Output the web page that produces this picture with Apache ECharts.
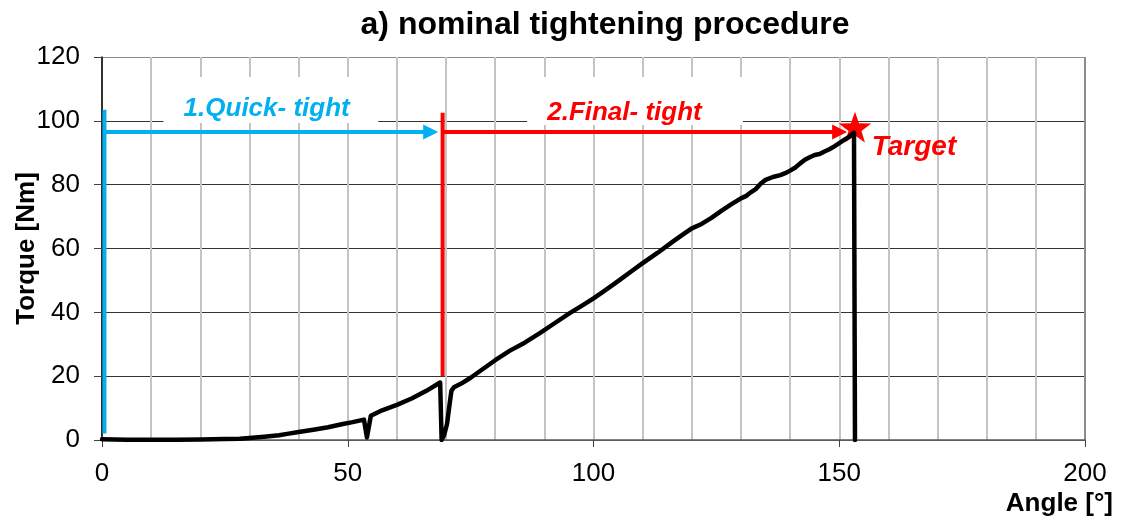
<!DOCTYPE html>
<html>
<head>
<meta charset="utf-8">
<script src="https://cdn.jsdelivr.net/npm/echarts@6/dist/echarts.min.js"></script>
<style>
  html, body { margin: 0; padding: 0; background: #fff; }
  #chart { width: 1121px; height: 521px; }
</style>
</head>
<body>
<div id="chart"></div>
<script>
// Torque vs. rotation angle of one nominal tightening run
const angle = [0, 5, 10, 15, 20, 25, 28, 30, 33, 36, 38, 40, 43, 46, 49, 51, 53.3, 53.9, 54.7, 57, 60, 63, 66, 68.8,
  69.1, 69.6, 70.2, 70.7, 71.1, 71.6, 73, 75, 78, 80, 83, 86, 89, 92, 95, 98, 100, 102, 105, 108, 110, 113, 116, 118,
  120, 122, 124, 126, 128, 130, 131, 132, 133, 134, 135, 136.5, 138, 139, 140, 141, 142, 143, 144, 145, 146, 147, 148,
  149, 150, 151, 152, 153, 153.2];
const torque = [0.2, 0.1, 0.1, 0.1, 0.15, 0.3, 0.4, 0.6, 1.0, 1.5, 2.0, 2.5, 3.2, 4.0, 5.0, 5.6, 6.4, 0.8, 7.6, 9.3, 11.0, 13.0, 15.4, 18.0,
  0.0, 1.5, 5.0, 11.0, 15.5, 16.5, 17.6, 19.5, 22.8, 25.0, 28.0, 30.5, 33.4, 36.5, 39.6, 42.4, 44.4, 46.5, 49.8, 53.2, 55.4, 58.6, 62.0, 64.2,
  66.3, 67.7, 69.6, 71.8, 73.8, 75.7, 76.4, 77.6, 78.6, 80.3, 81.5, 82.4, 83.0, 83.6, 84.4, 85.3, 86.6, 87.8, 88.6, 89.3, 89.6, 90.4, 91.1,
  92.0, 93.0, 94.0, 95.0, 96.3, 0];

// Phase markers, in [angle °, torque Nm]
const quickBar = [[0.5, 2], [0.5, 103.5]];
const quickArrow = [[0.5, 96.5], [68.4, 96.5]];
const finalBar = [[69.3, 20], [69.3, 102.5]];
const finalArrow = [[69.3, 96.5], [151.6, 96.5]];
const targetPoint = [153.2, 97.5];

// Phase captions: text, anchor point, white backing box corners
const captionText = ['1.Quick- tight', '2.Final- tight', 'Target'];
const captionAnchor = [[33.5, 103.8], [106.3, 102.4], [156.6, 91.8]];
const captionBox = [[[12.5, 113.7], [56.2, 99.3]], [[86.5, 113.7], [130.4, 98.7]], null];

const BLUE = '#00B0F0';
const RED = '#FF0000';
const FONT = '"Liberation Sans", Arial, Helvetica, sans-serif';

const curve = angle.map((a, i) => [a, torque[i]]);

function renderMarkers(params, api) {
  const P = p => api.coord(p);
  const kids = [];

  captionBox.forEach(b => {
    if (!b) return;
    const a = P(b[0]), c = P(b[1]);
    kids.push({ type: 'rect', shape: { x: a[0], y: a[1], width: c[0] - a[0], height: c[1] - a[1] },
      style: { fill: '#fff' } });
  });

  function seg(pts, color) {
    const a = P(pts[0]), b = P(pts[1]);
    kids.push({ type: 'line', shape: { x1: a[0], y1: a[1], x2: b[0], y2: b[1] },
      style: { stroke: color, lineWidth: 4 } });
  }
  function arrow(pts, color) {
    const a = P(pts[0]), b = P(pts[1]);
    const len = 15, half = 7.5;
    kids.push({ type: 'line', shape: { x1: a[0], y1: a[1], x2: b[0] - len + 1, y2: b[1] },
      style: { stroke: color, lineWidth: 4 } });
    kids.push({ type: 'polygon', shape: { points: [[b[0], b[1]], [b[0] - len, b[1] - half], [b[0] - len, b[1] + half]] },
      style: { fill: color } });
  }
  seg(quickBar, BLUE);
  arrow(quickArrow, BLUE);
  seg(finalBar, RED);
  arrow(finalArrow, RED);

  // target star
  const c = P(targetPoint);
  const R = 17, r = 6.8, pts = [];
  for (let k = 0; k < 10; k++) {
    const rad = k % 2 === 0 ? R : r;
    const ang = -Math.PI / 2 + k * Math.PI / 5;
    pts.push([c[0] + rad * Math.cos(ang), c[1] + rad * Math.sin(ang)]);
  }
  kids.push({ type: 'polygon', shape: { points: pts }, style: { fill: RED } });

  const colors = [BLUE, RED, RED];
  const sizes = [26, 26, 28];
  const aligns = ['center', 'center', 'left'];
  captionText.forEach((t, i) => {
    const p = P(captionAnchor[i]);
    kids.push({ type: 'text', style: {
      text: t, x: p[0], y: p[1], fill: colors[i],
      font: 'italic bold ' + sizes[i] + 'px ' + FONT,
      align: aligns[i], verticalAlign: 'middle',
      textAlign: aligns[i], textVerticalAlign: 'middle'
    } });
  });

  return { type: 'group', children: kids };
}

const chart = echarts.init(document.getElementById('chart'), null, { renderer: 'canvas' });
chart.setOption({
  backgroundColor: '#fff',
  animation: false,
  title: {
    text: 'a) nominal tightening procedure',
    left: 600, top: 4, textAlign: 'center',
    textStyle: { fontFamily: FONT, fontSize: 32, fontWeight: 'bold', color: '#000' }
  },
  grid: { left: 102, right: 36, top: 57, bottom: 81, show: false, containLabel: false, outerBoundsMode: 'none' },
  xAxis: {
    type: 'value', min: 0, max: 200, interval: 50,
    axisLine: { show: true, onZero: false, lineStyle: { color: '#595959', width: 1.5 } },
    axisTick: { show: true, length: 7, lineStyle: { color: '#404040', width: 1 } },
    axisLabel: { fontFamily: FONT, fontSize: 26, color: '#000', margin: 21 },
    splitLine: { show: true, lineStyle: { color: ['#c4c4c4', '#c4c4c4', '#c4c4c4', '#c4c4c4', '#8c8c8c'], width: 2 } },
    minorTick: { show: false, splitNumber: 5 },
    minorSplitLine: { show: true, lineStyle: { color: '#c4c4c4', width: 2 } }
  },
  yAxis: {
    type: 'value', min: 0, max: 120, interval: 20,
    name: 'Torque [Nm]', nameLocation: 'middle', nameGap: 62, nameMoveOverlap: false,
    nameTextStyle: { fontFamily: FONT, fontSize: 26, fontWeight: 'bold', color: '#000' },
    axisLine: { show: true, lineStyle: { color: '#000', width: 1.5 } },
    axisTick: { show: true, length: 8, lineStyle: { color: '#404040', width: 1 } },
    axisLabel: { fontFamily: FONT, fontSize: 26, color: '#000', margin: 22 },
    splitLine: { show: true, lineStyle: { color: ['#666', '#333', '#333', '#333', '#333', '#333', '#8c8c8c'], width: 1 } }
  },
  graphic: [{
    type: 'text', right: 8, top: 491,
    style: { text: 'Angle [°]', font: 'bold 26px ' + FONT, fill: '#000' }
  }],
  series: [
    {
      type: 'custom', name: 'markers', coordinateSystem: 'cartesian2d',
      data: [[0, 0]], renderItem: renderMarkers, silent: true, clip: false, z: 3
    },
    {
      type: 'line', name: 'torque', data: curve, showSymbol: false, z: 4,
      lineStyle: { color: '#000', width: 4.5, join: 'round', cap: 'round' }
    }
  ]
});
</script>
</body>
</html>
